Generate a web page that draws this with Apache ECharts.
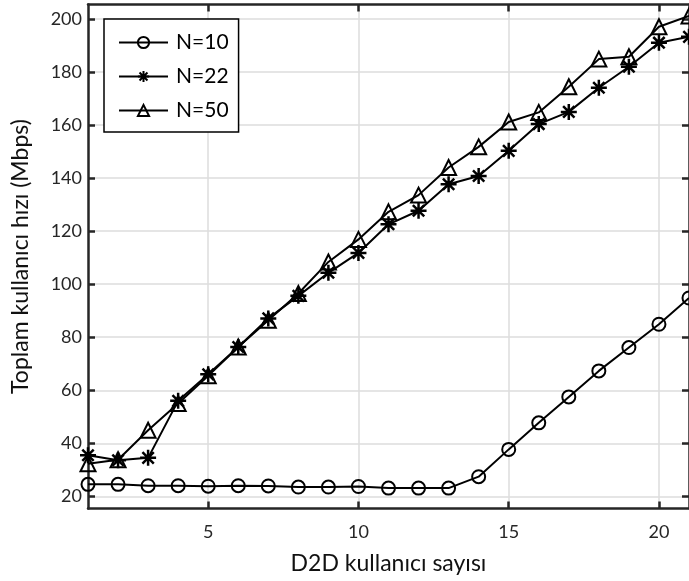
<!DOCTYPE html>
<html>
<head>
<meta charset="utf-8">
<script src="https://cdn.jsdelivr.net/npm/echarts@6/dist/echarts.min.js"></script>
<style>
    html, body { margin: 0; padding: 0; background: #fff; }
    #chart { width: 689px; height: 581px; }
</style>
</head>
<body>
<div id="chart"></div>
<script>
    // D2D user count on x, total user rate on y
    var xValues = [1, 2, 3, 4, 5, 6, 7, 8, 9, 10, 11, 12, 13, 14, 15, 16, 17, 18, 19, 20, 21];
    var n10 = [24.5, 24.5, 24.0, 24.0, 23.8, 24.0, 23.9, 23.5, 23.5, 23.7, 23.1, 23.1, 23.1, 27.4, 37.7, 47.7, 57.5, 67.3, 76.1, 84.9, 94.8];
    var n22 = [35.5, 33.6, 34.5, 56.0, 66.0, 76.3, 87.1, 95.6, 104.3, 111.8, 122.6, 127.7, 137.7, 140.8, 150.3, 160.4, 165.0, 174.1, 182.0, 191.1, 193.3];
    var n50 = [32.3, 33.8, 44.9, 55.0, 65.5, 76.3, 86.4, 96.5, 108.4, 116.9, 127.3, 133.6, 144.0, 151.8, 161.2, 164.8, 174.5, 184.9, 185.8, 197.1, 201.2];
    var xTicks = [5, 10, 15, 20];
    var yTicks = [20, 40, 60, 80, 100, 120, 140, 160, 180, 200];

    var font = 'Lato';
    var axisColor = '#262626';
    var asterisk = 'path://M10,0L10,20M0,10L20,10M2.9,2.9L17.1,17.1M17.1,2.9L2.9,17.1';

    function pairs(ys) {
        var out = [];
        for (var i = 0; i < xValues.length; i++) {
            out.push([xValues[i], ys[i]]);
        }
        return out;
    }

    function boxAxis(pos, min, max, ticks, labels) {
        return {
            type: 'value',
            position: pos,
            min: min,
            max: max,
            axisLine: { show: true, onZero: false, lineStyle: { color: axisColor, width: 2.5 } },
            axisTick: { show: true, inside: true, length: 7, customValues: ticks, lineStyle: { color: axisColor, width: 2.5 } },
            axisLabel: {
                show: labels, customValues: ticks, margin: 8,
                color: axisColor, fontFamily: font, fontSize: 18
            },
            splitLine: { show: labels, lineStyle: { color: '#dcdcdc', width: 1.5 } }
        };
    }

    function makeSeries(name, ys, symbol, size, border) {
        return {
            name: name,
            type: 'line',
            data: pairs(ys),
            symbol: symbol,
            symbolSize: size,
            symbolKeepAspect: true,
            showAllSymbol: true,
            animation: false,
            clip: false,
            lineStyle: { color: '#000', width: 2 },
            itemStyle: { color: 'transparent', borderColor: '#000', borderWidth: border },
            emphasis: { disabled: true }
        };
    }

    var chart = echarts.init(document.getElementById('chart'));

    var xBottom = boxAxis('bottom', 1, 21, xTicks, true);
    xBottom.axisLabel.margin = 15;
    xBottom.name = 'D2D kullanıcı sayısı';
    xBottom.nameLocation = 'middle';
    xBottom.nameGap = 44;
    xBottom.nameTextStyle = { color: '#111', fontFamily: font, fontSize: 23 };

    var yLeft = boxAxis('left', 15.4, 205.5, yTicks, true);
    yLeft.axisLabel.margin = 6;
    yLeft.name = 'Toplam kullanıcı hızı (Mbps)';
    yLeft.nameLocation = 'middle';
    yLeft.nameGap = 56;
    yLeft.nameTextStyle = { color: '#111', fontFamily: font, fontSize: 23 };

    var option = {
        backgroundColor: '#fff',
        animation: false,
        grid: { left: 88, top: 4.5, width: 602, height: 504 },
        xAxis: [xBottom, boxAxis('top', 1, 21, xTicks, false)],
        yAxis: [yLeft, boxAxis('right', 15.4, 205.5, yTicks, false)],
        legend: {
            orient: 'vertical',
            left: 104,
            top: 19,
            padding: [13, 10, 11, 14],
            itemWidth: 49,
            itemHeight: 14,
            itemGap: 13,
            borderColor: '#000',
            borderWidth: 1.5,
            backgroundColor: '#fff',
            textStyle: { color: '#000', fontFamily: font, fontSize: 21, padding: [0, 0, 0, 3] },
            data: ['N=10', 'N=22', 'N=50']
        },
        series: [
            makeSeries('N=10', n10, 'circle', 13, 2),
            makeSeries('N=22', n22, asterisk, 16, 2.5),
            makeSeries('N=50', n50, 'triangle', 15, 2)
        ]
    };
    chart.setOption(option);
</script>
</body>
</html>
